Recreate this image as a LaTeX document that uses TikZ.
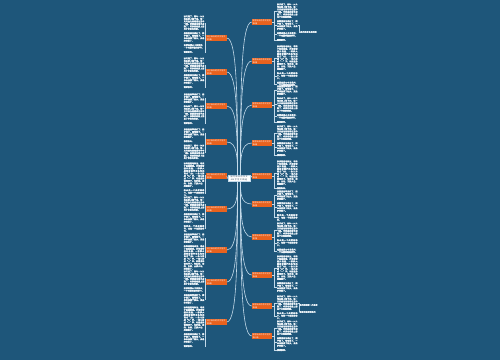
\documentclass[tikz,border=0pt]{standalone}
\usepackage{fontspec}
\newfontfamily\cjk{Noto Sans CJK SC}
\newfontfamily\cjkb[FakeBold=1.5]{Noto Sans CJK SC}
\XeTeXlinebreaklocale "zh"
\XeTeXlinebreakskip=0pt plus 1pt
\definecolor{bgc}{RGB}{30,86,122}
\definecolor{org}{RGB}{232,98,30}
\definecolor{lnc}{RGB}{195,218,234}
\definecolor{txc}{RGB}{236,243,248}
\definecolor{rtx}{RGB}{40,62,84}
\newcommand\txa{秋天来了，树叶一片片地从树上落下来，像一只只金色的蝴蝶在空中飞舞。田野里的稻子成熟了，农民伯伯脸上露出了丰收的笑容。}
\newcommand\txb{秋天是一个美丽的季节，也是一个收获的季节。}
\newcommand\txc{果园里的苹果红了，梨子黄了，葡萄紫了，一串串挂满了枝头，真是好看极了。}
\newcommand\txd{我爱秋天。}
\newcommand\txe{秋风轻轻地吹过，带来了丝丝凉意。天空变得格外高远，一群群大雁排着整齐的队伍向南方飞去，一会儿排成“人”字，一会儿排成“一”字。公园里的菊花开了，有红的、黄的、白的，五颜六色，美丽极了。}
\newcommand\txf{这就是我心中的秋天，一个充满希望的季节。}
\tikzset{
  leaf/.style={font=\cjkb\fontsize{2}{2.5}\selectfont, text=txc, text width=20.5pt, align=justify, inner sep=0.3pt},
  topic/.style={fill=org, font=\cjk\fontsize{1.9}{2.6}\selectfont, text=white, text width=19pt, align=left, inner sep=0.6pt, minimum height=6pt},
  root/.style={fill=white, draw=lnc, line width=0.3pt, font=\cjk\fontsize{2}{2.7}\selectfont, text=rtx, text width=21pt, align=center, inner sep=0.7pt},
  conn/.style={draw=lnc, line width=0.35pt},
  mainc/.style={draw=lnc, line width=0.6pt},
}
\newcommand\leafgroupL[3]{%
  \coordinate (nxt) at (183.3,#2);
  \foreach \tx [count=\k] in {#3} {
    \node[leaf, anchor=north west] (L#1-\k) at (nxt) {\tx};
    \coordinate (nxt) at ([yshift=-1.5pt]L#1-\k.south west);
    \draw[conn] (LT#1.west) -- ++(-1pt,0) |- (L#1-\k.east);
  }}
\newcommand\leafgroupR[3]{%
  \coordinate (nxt) at (276.5,#2);
  \foreach \tx [count=\k] in {#3} {
    \node[leaf, anchor=north west] (R#1-\k) at (nxt) {\tx};
    \coordinate (nxt) at ([yshift=-1.5pt]R#1-\k.south west);
    \draw[conn] (RT#1.east) -- ++(2pt,0) |- (R#1-\k.west);
  }}
\begin{document}
\begin{tikzpicture}[x=1pt,y=-1pt]
\fill[bgc] (0,0) rectangle (500,360);
\node[root] (c) at (239,178.5) {描写秋天的作文600字范文精选};
% topics
\foreach \y [count=\i] in {22,61,105,143,176,204,237,275,306,336}
  \node[topic] (RT\i) at (262,\y) {描写秋天的作文范文 第\i{}篇};
\foreach \y [count=\i] in {38,72,106,142,176,209,250,282,322}
  \node[topic] (LT\i) at (216.5,\y) {关于秋天的作文范文 第\i{}篇};
% main connectors
\foreach \y/\i in {22/1,61/2,105/3,143/4} {
  \pgfmathsetmacro\m{(175+\y)/2}
  \draw[mainc] ([xshift=1.5pt]c.north) .. controls (240.5,\m) and (240.5,\y) .. (RT\i.west);
}
\foreach \y/\i in {204/6,237/7,275/8,306/9,336/10} {
  \pgfmathsetmacro\m{(182+\y)/2}
  \draw[mainc] ([xshift=1.5pt]c.south) .. controls (240.5,\m) and (240.5,\y) .. (RT\i.west);
}
\foreach \y/\i in {38/1,72/2,106/3,142/4} {
  \pgfmathsetmacro\m{(175+\y)/2}
  \draw[mainc] ([xshift=-1.5pt]c.north) .. controls (237.5,\m) and (237.5,\y) .. (LT\i.east);
}
\foreach \y/\i in {209/6,250/7,282/8,322/9} {
  \pgfmathsetmacro\m{(182+\y)/2}
  \draw[mainc] ([xshift=-1.5pt]c.south) .. controls (237.5,\m) and (237.5,\y) .. (LT\i.east);
}
\draw[mainc] (c.east) -- (RT5.west);
\draw[mainc] (c.west) -- (LT5.east);
% right leaves
\leafgroupR{1}{3}{\txa,\txc,\txf,\txd}
\leafgroupR{2}{45}{\txe,\txb,\txf}
\leafgroupR{3}{85}{\txc,\txa,\txf,\txd}
\leafgroupR{4}{125}{\txa,\txc,\txd}
\leafgroupR{5}{160}{\txe,\txd}
\leafgroupR{6}{190}{\txc,\txc,\txb}
\leafgroupR{7}{222}{\txa,\txb,\txf}
\leafgroupR{8}{255}{\txe,\txc}
\leafgroupR{9}{295}{\txa,\txb}
\leafgroupR{10}{320}{\txa,\txc,\txd}
% left leaves
\leafgroupL{1}{15}{\txa,\txc,\txf,\txd}
\leafgroupL{2}{57}{\txa,\txc,\txd}
\leafgroupL{3}{93}{\txc,\txa,\txd}
\leafgroupL{4}{128}{\txc,\txd,\txa}
\leafgroupL{5}{162}{\txe,\txb}
\leafgroupL{6}{196}{\txa,\txc,\txb}
\leafgroupL{7}{233}{\txc,\txe}
\leafgroupL{8}{270}{\txa,\txf,\txc}
\leafgroupL{9}{306}{\txe,\txc,\txd}
% extra second-level leaves
\node[leaf, anchor=west, text width=18pt, align=left] (X1) at (300,32) {秋天的景色真美丽};
\draw[conn] (R1-2.east) -- ++(1.5pt,0) |- (X1.west);
\node[leaf, anchor=west, text width=18pt, align=left] (X2) at (299,305) {秋天的田野一片金黄};
\node[leaf, anchor=west, text width=18pt, align=left] (X3) at (299,312) {我喜欢这样的秋天};
\draw[conn] (R9-1.east) -- ++(1pt,0) |- (X2.west);
\draw[conn] (R9-1.east) -- ++(1pt,0) |- (X3.west);
\end{tikzpicture}
\end{document}
